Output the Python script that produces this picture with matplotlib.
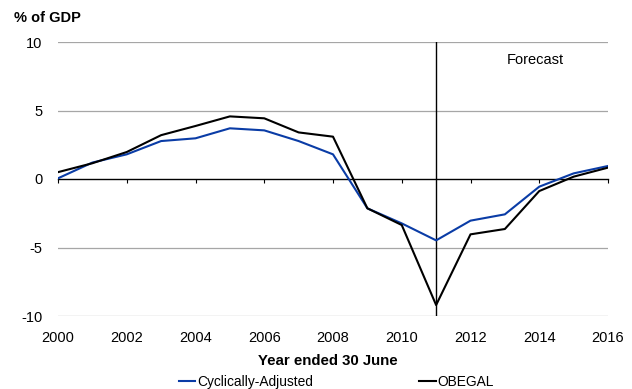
import numpy as np
import matplotlib
matplotlib.use("Agg")
import matplotlib.pyplot as plt

plt.rcParams['font.family'] = ['Liberation Sans', 'DejaVu Sans']
plt.rcParams['axes.unicode_minus'] = False

years = np.arange(2000, 2017)
cyclically_adjusted = [0.05, 1.2, 1.8, 2.77, 2.97, 3.7, 3.55, 2.77, 1.8, -2.14,
                       -3.24, -4.48, -3.04, -2.58, -0.56, 0.41, 0.95]
obegal = [0.5, 1.15, 1.97, 3.2, 3.87, 4.57, 4.43, 3.4, 3.09, -2.14,
          -3.36, -9.2, -4.04, -3.65, -0.88, 0.17, 0.83]
x_ticks = np.arange(2000, 2017, 2)
y_ticks = [-10, -5, 0, 5, 10]
forecast_start = 2011

BLUE = '#0a3ca6'

fig = plt.figure(figsize=(6.32, 3.89), dpi=100)
ax = fig.add_axes([58 / 632, 73 / 389, 550 / 632, 274 / 389])

# gridlines, skipping zero where the axis line sits
for y in y_ticks:
    if y != 0:
        ax.axhline(y, color='#a6a6a6', lw=0.9, zorder=0)

ax.axvline(forecast_start, color='black', lw=1, zorder=1)

ax.plot(years, cyclically_adjusted, color=BLUE, lw=1.5, label='Cyclically-Adjusted', zorder=3)
ax.plot(years, obegal, color='black', lw=1.5, label='OBEGAL', zorder=3)

ax.set_xlim(2000, 2016)
ax.set_ylim(-10, 10)

for side in ['top', 'right', 'left']:
    ax.spines[side].set_visible(False)
ax.spines['bottom'].set_position(('data', 0))
ax.spines['bottom'].set_color('black')
ax.spines['bottom'].set_linewidth(1)

ax.set_xticks(x_ticks)
ax.tick_params(axis='x', direction='out', length=3, width=0.8, labelbottom=False)
ax.set_yticks(y_ticks)
ax.tick_params(axis='y', length=0, labelsize=10.5, pad=11)

# year labels along the bottom of the plot area
sec = ax.secondary_xaxis('bottom')
sec.set_xticks(x_ticks)
sec.tick_params(length=0, labelsize=10.5, pad=11)
sec.spines['bottom'].set_visible(False)

ax.text(2013.9, 8.7, 'Forecast', ha='center', va='center', fontsize=10.5)

fig.text(14 / 632, 1 - 18 / 389, '% of GDP', fontsize=10.5, fontweight='bold',
         ha='left', va='center')
fig.text(328 / 632, 1 - 361 / 389, 'Year ended 30 June', fontsize=10.8,
         fontweight='bold', ha='center', va='center')

fig.legend(loc='center', bbox_to_anchor=(336.5 / 632, 1 - 382 / 389), ncol=2,
           frameon=False, fontsize=9.9, handlelength=1.2, handletextpad=0.15,
           columnspacing=7.7, borderpad=0)

fig.savefig('out.png', dpi=100)
